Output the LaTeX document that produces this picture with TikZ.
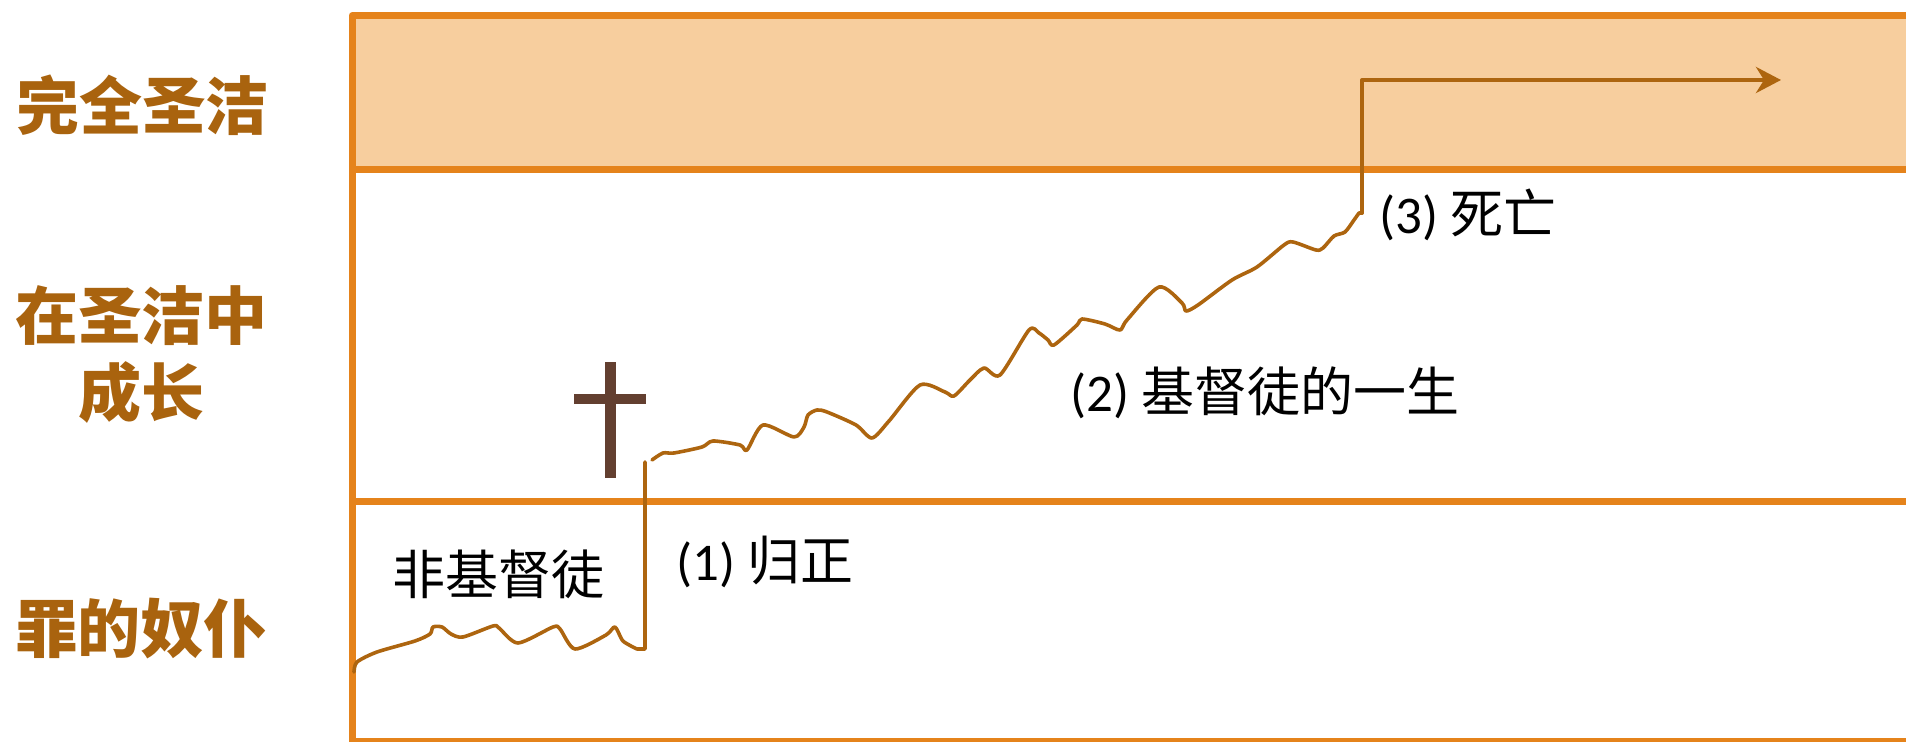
\documentclass[tikz,border=0pt]{standalone}
\usepackage{fontspec}
\setmainfont{Carlito}
\newfontfamily\cjk{Noto Sans CJK SC}
\usetikzlibrary{arrows.meta}

\definecolor{framecol}{HTML}{E5831B}
\definecolor{bandcol}{HTML}{F7CE9E}
\definecolor{pathcol}{HTML}{AD650F}
\definecolor{labelcol}{HTML}{A9630E}
\definecolor{crosscol}{HTML}{633F30}

\tikzset{
    frameline/.style = {draw=framecol, line width=3.5pt},
    stage/.style = {text=labelcol, font=\fontsize{31.5}{38.5}\selectfont\cjk\bfseries, align=center, inner sep=0pt},
    note/.style = {text=black, font=\fontsize{26.5}{30}\selectfont, anchor=west, inner sep=0pt},
    walk/.style = {draw=pathcol, line width=1.8pt, line cap=round, line join=round},
}

\begin{document}
\begin{tikzpicture}[x = 0.5pt , y = -0.5pt , line join = round]
    \useasboundingbox (0,0) rectangle (1906,742);

    % Rahmen
    \fill[bandcol] (352,15.5) rectangle (1906,170);
    \draw[frameline] (1906,15.5) -- (352,15.5) -- (352,745);
    \draw[frameline] (352,170) -- (1906,170);
    \draw[frameline] (352,502) -- (1906,502);
    \draw[frameline] (352,741.5) -- (1906,741.5);

    % Kreuz
    \fill[crosscol] (605,362) rectangle (616,478);
    \fill[crosscol] (574,394) rectangle (646,404);

    \coordinate (convbot) at (645,649);
    \coordinate (convtop) at (645,462);
    \coordinate (deathbot) at (1362,213);
    \coordinate (deathtop) at (1362,80);
    \coordinate (goal) at (1781,80);

    \draw[walk] plot[smooth , tension = 0.45] coordinates {(354,672) (357,662) (377,652) (415,641) (430,634) (433,627) (442,627) (451,634) (463,637) (493,626) (499,628) (518,643) (553,627) (560,629) (575,649) (606,635) (615,627) (623,641) (637,649)} -- (convbot) -- (convtop);
    \draw[walk] plot[smooth , tension = 0.45] coordinates {(652,460) (663,453) (674,453) (702,447) (713,441) (740,445) (747,450) (763,425) (794,437) (804,427) (808,415) (817,410) (827,412) (856,425) (872,438) (889,421) (920,385) (945,392) (954,396) (970,380) (984,368) (1000,375) (1029,330) (1039,333) (1048,340) (1054,345) (1077,325) (1082,319) (1105,324) (1120,330) (1127,320) (1159,287) (1182,303) (1186,311) (1198,305) (1232,280) (1257,267) (1284,245) (1293,242) (1316,250) (1323,248) (1334,236) (1345,232) (1354,220) (1359,213)} -- (deathbot);
    \draw[walk , line width = 2pt , -{Stealth[length=12.5pt , width=13pt , inset=4pt]}] (deathbot) -- (deathtop) -- (goal);

    % Stufen
    \node[stage] (holy) at (143,105) {完全圣洁};
    \node[stage] (grow) at (142,355) {在圣洁中\\成长};
    \node[stage] (slave) at (141,629) {罪的奴仆};

    \node[note] (nonchr) at (392,574) {\cjk 非基督徒};
    \node[note] (conv) at (676,562) {(1) {\cjk 归正}};
    \node[note] (life) at (1070,393) {(2) {\cjk 基督徒的一生}};
    \node[note] (death) at (1379,215) {(3) {\cjk 死亡}};
\end{tikzpicture}
\end{document}
